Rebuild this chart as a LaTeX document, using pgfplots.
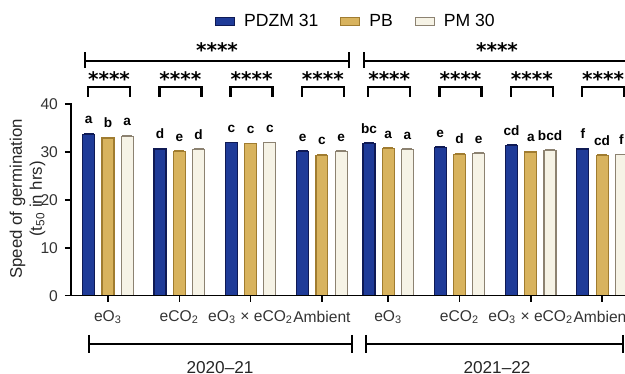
\documentclass[border=0pt]{standalone}
\usepackage{fontspec}
\setmainfont{Liberation Sans}
\newfontfamily\starfont{DejaVu Sans}
\usepackage{pgfplots}
\usepackage{pgfplotstable}
\pgfplotsset{compat=1.18}
\definecolor{cblue}{HTML}{1F3B98}
\definecolor{cblueE}{HTML}{0F1A55}
\definecolor{ctan}{HTML}{D8B35E}
\definecolor{ctanE}{HTML}{A07C30}
\definecolor{ccream}{HTML}{F6F3E6}
\definecolor{ccreamE}{HTML}{8C8271}
\pgfplotstableread{
xb     blue  eb    lb  xt    tan   et    lt  xc    cream ec    lc
-0.27  33.7  0.20  a   0     32.9  0.15  b   0.27  33.3  0.15  a
0.73   30.6  0.15  d   1     30.1  0.15  e   1.27  30.5  0.15  d
1.73   31.9  0.15  c   2     31.7  0.15  c   2.27  31.9  0.15  c
2.73   30.1  0.15  e   3     29.3  0.15  c   3.27  30.1  0.15  e
3.66   31.7  0.30  bc  3.93  30.7  0.15  a   4.20  30.5  0.25  a
4.66   30.9  0.15  e   4.93  29.5  0.15  d   5.20  29.6  0.20  e
5.66   31.3  0.15  cd  5.93  30.0  0.15  a   6.20  30.3  0.15  bcd
6.66   30.6  0.15  f   6.93  29.2  0.15  cd  7.20  29.4  0.15  f
}\data
\begin{document}
\begin{tikzpicture}
\begin{axis}[
  x=35.65pt, y=2.395pt,
  xmin=-0.52, xmax=7.6, ymin=0, ymax=40,
  clip=false,
  axis line style={draw=none},
  xtick pos=bottom, ytick pos=left,
  tick align=outside, major tick length=3pt,
  tick style={line width=0.8pt, black},
  ytick={0,10,20,30,40},
  xtick={0,1,2,3,3.93,4.93,5.93,6.93},
  xticklabels={eO\textsubscript{3}, eCO\textsubscript{2}, eO\textsubscript{3} × eCO\textsubscript{2}, Ambient, eO\textsubscript{3}, eCO\textsubscript{2}, eO\textsubscript{3} × eCO\textsubscript{2}, Ambient},
  /pgf/number format/assume math mode=true,
  tick label style={font=\fontsize{7.8}{9}\selectfont, text=black!80},
  xticklabel style={yshift=-1pt},
  legend style={at={(axis description cs:0.494,1.4275)}, anchor=center, draw=none, fill=none,
     font=\fontsize{8.8}{10}\selectfont, legend columns=3,
     /tikz/every odd column/.append style={column sep=2.5pt},
     /tikz/every even column/.append style={column sep=9pt}},
  legend image code/.code={\draw[#1, line width=0.5pt] (0pt,-1.8pt) rectangle (9.5pt,2.4pt);},
  nodes near coords,
  point meta=explicit symbolic,
  nodes near coords style={font=\fontsize{6.8}{7}\selectfont\bfseries, anchor=south, yshift=1.5pt, text=black},
  error bars/y dir=plus, error bars/y explicit,
]
\addplot[ybar, bar width=0.168, bar shift=0, fill=cblue, draw=cblueE, line width=0.6pt,
  error bars/error bar style={line width=0.6pt, cblueE}, error bars/error mark options={rotate=90, mark size=2.5pt, line width=0.6pt, cblueE}]
  table[x=xb, y=blue, y error=eb, meta=lb]{\data};
\addlegendentry{PDZM 31}
\addplot[ybar, bar width=0.168, bar shift=0, fill=ctan, draw=ctanE, line width=0.6pt,
  error bars/error bar style={line width=0.6pt, ctanE}, error bars/error mark options={rotate=90, mark size=2.5pt, line width=0.6pt, ctanE}]
  table[x=xt, y=tan, y error=et, meta=lt]{\data};
\addlegendentry{PB}
\addplot[ybar, bar width=0.168, bar shift=0, fill=ccream, draw=ccreamE, line width=0.6pt,
  error bars/error bar style={line width=0.6pt, ccreamE}, error bars/error mark options={rotate=90, mark size=2.5pt, line width=0.6pt, ccreamE}]
  table[x=xc, y=cream, y error=ec, meta=lc]{\data};
\addlegendentry{PM 30}

% axis lines
\draw[line width=0.8pt, line cap=rect] (axis cs:-0.52,40) -- (axis cs:-0.52,0) -- (axis cs:7.6,0);

% group brackets and stars
\pgfplotsinvokeforeach{0,1,2,3,3.93,4.93,5.93,6.93}{
  \draw[line width=1.2pt] ([xshift=-10pt]axis cs:#1,41.5) -- ([xshift=-10pt]axis cs:#1,43.6) -- ([xshift=11pt]axis cs:#1,43.6) -- ([xshift=11pt]axis cs:#1,41.5);
  \node[font=\starfont\bfseries\fontsize{10}{10}\selectfont, inner sep=0pt] at ([xshift=0.5pt]axis cs:#1,45.3) {****};
}
% long lines
\draw[line width=0.8pt] (axis cs:-0.323,49.0) -- (axis cs:3.380,49.0);
\draw[line width=0.8pt] (axis cs:-0.323,47.5) -- (axis cs:-0.323,50.8);
\draw[line width=0.8pt] (axis cs:3.380,47.5) -- (axis cs:3.380,50.8);
\draw[line width=0.8pt] (axis cs:3.590,49.0) -- (axis cs:7.321,49.0);
\draw[line width=0.8pt] (axis cs:3.590,47.5) -- (axis cs:3.590,50.8);
\draw[line width=0.8pt] (axis cs:7.321,47.5) -- (axis cs:7.321,50.8);
\node[font=\starfont\bfseries\fontsize{10}{10}\selectfont, inner sep=0pt] at (axis cs:1.529,51.3) {****};
\node[font=\starfont\bfseries\fontsize{10}{10}\selectfont, inner sep=0pt] at (axis cs:5.456,51.3) {****};
% year brackets
\draw[line width=1.2pt] (axis cs:-0.266,-10.1) -- (axis cs:3.422,-10.1);
\draw[line width=1.2pt] (axis cs:-0.266,-8.2) -- (axis cs:-0.266,-11.9);
\draw[line width=1.2pt] (axis cs:3.422,-8.2) -- (axis cs:3.422,-11.9);
\draw[line width=1.2pt] (axis cs:3.619,-10.1) -- (axis cs:7.223,-10.1);
\draw[line width=1.2pt] (axis cs:3.619,-8.2) -- (axis cs:3.619,-11.9);
\draw[line width=1.2pt] (axis cs:7.223,-8.2) -- (axis cs:7.223,-11.9);
\node[font=\fontsize{8.6}{10}\selectfont, text=black!85] at (axis cs:1.571,-15.0) {2020–21};
\node[font=\fontsize{8.6}{10}\selectfont, text=black!85] at (axis cs:5.456,-15.0) {2021–22};
% y label
\node[rotate=90, align=center, font=\fontsize{8.4}{10}\selectfont, text=black!85] at (axis cs:-1.13,20.2)
  {Speed of germination\\(t\textsubscript{50} in hrs)};
\coordinate (BL) at (axis cs:-1.515,-16.35);
\coordinate (TR) at (axis cs:7.251,61.73);
\end{axis}
\pgfresetboundingbox
\useasboundingbox (BL) rectangle (TR);
\end{tikzpicture}
\end{document}
